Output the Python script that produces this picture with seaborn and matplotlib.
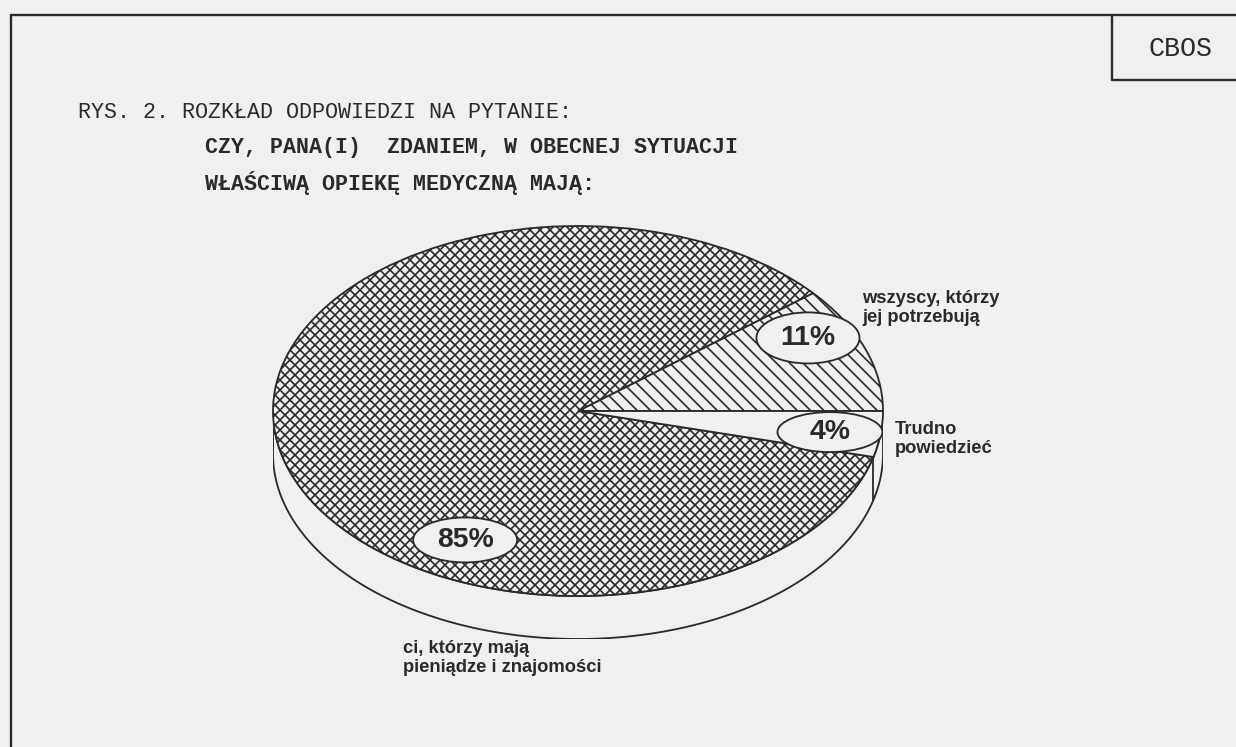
import numpy as np
import matplotlib
matplotlib.use("Agg")
import matplotlib.pyplot as plt
from matplotlib.patches import Ellipse, Polygon
import seaborn as sns

# ---- data -------------------------------------------------------------
categories = ["wszyscy, którzy\njej potrzebują",
              "ci, którzy mają\npieniądze i znajomości",
              "Trudno\npowiedzieć"]
shares = [11, 85, 4]

title_line1 = "RYS. 2. ROZKŁAD ODPOWIEDZI NA PYTANIE:"
title_question = ["CZY, PANA(I)  ZDANIEM, W OBECNEJ SYTUACJI",
                  "WŁAŚCIWĄ OPIEKĘ MEDYCZNĄ MAJĄ:"]
source = "CBOS"

# ---- style ------------------------------------------------------------
BG = "#eff0f2"
INK = "#2a2a2a"
hatches = ["\\\\\\", "xxxx", ""]

sns.set_theme(style="white")
plt.rcParams["font.family"] = ["Liberation Sans", "DejaVu Sans"]
plt.rcParams["hatch.linewidth"] = 1.0

W, H, DPI = 1236, 747, 120
fig = plt.figure(figsize=(W / DPI, H / DPI), dpi=DPI)
fig.patch.set_facecolor(BG)

# pixel-based overlay for frame and text
frame = fig.add_axes([0, 0, 1, 1])
frame.set_xlim(0, W)
frame.set_ylim(H, 0)
frame.axis("off")
frame.patch.set_alpha(0)

# ---- pie (tilted: unit circle squashed into an ellipse) ---------------
cx, cy, rx, ry, depth = 578, 411, 305, 185, 43
t = depth / ry
ax = fig.add_axes([(cx - rx) / W, 1 - (cy + ry + depth) / H,
                   2 * rx / W, (2 * ry + depth) / H])
ax.patch.set_alpha(0)

start = 0
wedges, _ = ax.pie(shares, startangle=start, counterclock=True,
                   colors=[BG] * len(shares), hatch=hatches,
                   wedgeprops=dict(edgecolor=INK, linewidth=1.1),
                   radius=1, center=(0, 0), frame=False)
ax.set_aspect("auto")
ax.set_xlim(-1, 1)
ax.set_ylim(-1 - t, 1)
ax.axis("off")

# side wall of the disc (front half)
th = np.radians(np.linspace(180, 360, 200))
top = np.column_stack([np.cos(th), np.sin(th)])
bot = np.column_stack([np.cos(th), np.sin(th) - t])[::-1]
ax.add_patch(Polygon(np.vstack([top, bot]), closed=True, facecolor=BG,
                     edgecolor=INK, linewidth=1.1, zorder=0))

bounds = start + 360 * np.cumsum(shares) / sum(shares)
for b in bounds:
    a = b % 360
    if 180 < a < 360:
        r = np.radians(a)
        ax.plot([np.cos(r)] * 2, [np.sin(r), np.sin(r) - t],
                color=INK, linewidth=1.1, zorder=1)

# percentage labels in ellipses
pct_pos = [(0.754, 0.395), (-0.370, -0.697), (0.826, -0.114)]
pct_box = [(0.338, 0.276), (0.341, 0.243), (0.344, 0.216)]
for v, (x, y), (w, h) in zip(shares, pct_pos, pct_box):
    ax.add_patch(Ellipse((x, y), w, h, facecolor=BG, edgecolor=INK,
                         linewidth=1.1, zorder=3))
    ax.text(x, y, f"{v}%", ha="center", va="center", fontsize=17,
            fontweight="bold", color=INK, zorder=4)

# category names
cat_pos = [(862, 308), (403, 658), (895, 439)]
for name, (x, y) in zip(categories, cat_pos):
    frame.text(x, y, name, ha="left", va="center", fontsize=11,
               fontweight="bold", color=INK, linespacing=1.15)

# ---- frame, source box and title ------------------------------------
lw = 1.4
frame.plot([11, W], [15, 15], color=INK, lw=lw)
frame.plot([11, 11], [15, H], color=INK, lw=lw)
frame.plot([1112, 1112], [15, 80], color=INK, lw=lw)
frame.plot([1112, W], [80, 80], color=INK, lw=lw)
frame.text(1180, 49, source, ha="center", va="center", fontsize=16,
           family="Liberation Mono", color=INK)

frame.text(78, 113, title_line1, ha="left", va="center", fontsize=13,
           family="Liberation Mono", color=INK)
for i, line in enumerate(title_question):
    frame.text(205, 148 + 35 * i, line, ha="left", va="center",
               fontsize=13, family="Liberation Mono", fontweight="bold",
               color=INK)

fig.savefig("out.png", dpi=DPI, facecolor=BG)
